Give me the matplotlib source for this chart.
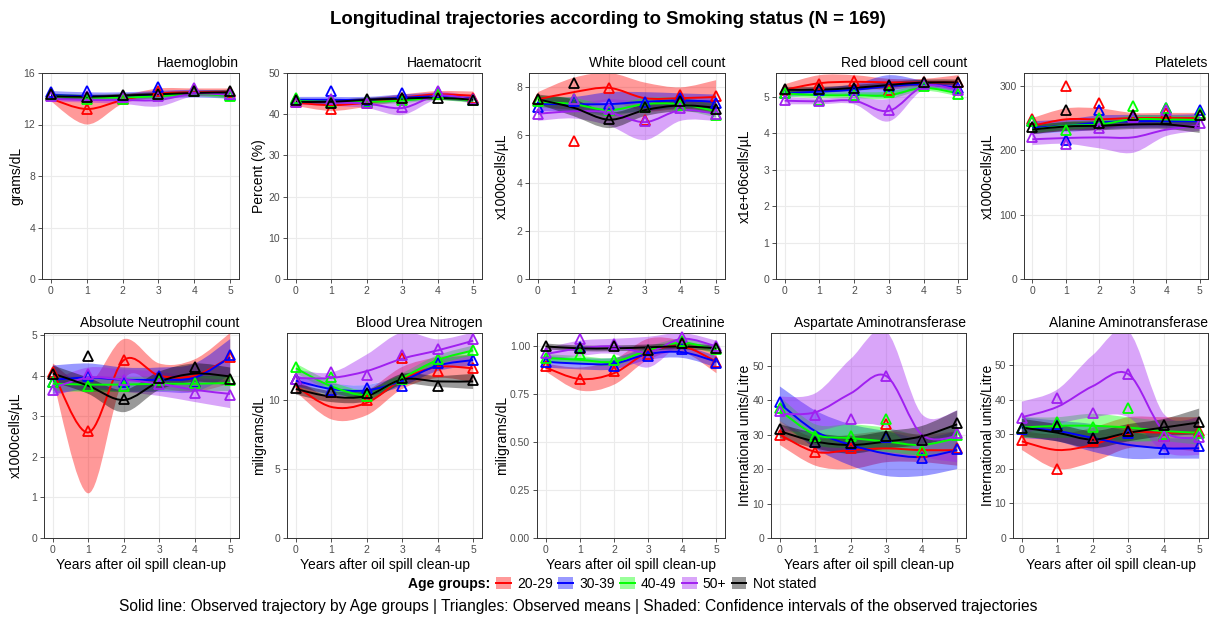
import matplotlib
matplotlib.use('Agg')
from matplotlib import pyplot as plt
from matplotlib.path import Path
from matplotlib.patches import PathPatch, Patch
from matplotlib.lines import Line2D

plt.rcParams['font.family'] = ['Liberation Sans', 'DejaVu Sans']

years = [0, 1, 2, 3, 4, 5]
groups = ['20-29', '30-39', '40-49', '50+', 'Not stated']
colors = ['#FF0000', '#0000FF', '#00FF00', '#A020F0', '#000000']

# rows follow the order of `groups`
# Haemoglobin
hb_mean = [[14.3, 13.2, 14.0, 14.6, 14.6, 14.5], [14.5, 14.6, 14.2, 14.9, 14.6, 14.3],
           [14.3, 14.0, 14.0, 14.3, 14.6, 14.2], [14.2, 14.2, 14.1, 14.2, 14.8, 14.4],
           [14.4, 14.1, 14.3, 14.4, 14.6, 14.6]]
hb_fit = [[14.0, 13.2, 13.9, 14.4, 14.5, 14.5], [14.3, 14.2, 14.2, 14.3, 14.4, 14.3],
          [14.2, 14.1, 14.1, 14.2, 14.4, 14.2], [14.0, 13.9, 13.9, 13.9, 14.4, 14.3],
          [14.2, 14.15, 14.25, 14.35, 14.45, 14.5]]
hb_lo = [[13.8, 12.0, 13.6, 14.1, 14.2, 14.2], [14.0, 13.9, 13.9, 14.0, 14.1, 14.0],
         [14.0, 13.9, 13.9, 14.0, 14.2, 14.0], [13.8, 13.7, 13.6, 13.4, 14.2, 14.1],
         [14.0, 14.0, 14.1, 14.2, 14.3, 14.3]]
hb_hi = [[14.2, 14.3, 14.3, 14.8, 14.8, 14.8], [14.6, 14.5, 14.5, 14.6, 14.7, 14.6],
         [14.4, 14.3, 14.3, 14.4, 14.6, 14.4], [14.2, 14.1, 14.2, 14.4, 14.6, 14.5],
         [14.4, 14.3, 14.4, 14.5, 14.6, 14.7]]

# Haematocrit
hct_mean = [[43.0, 41.3, 42.8, 44.0, 45.0, 44.0], [43.7, 45.6, 43.2, 45.2, 45.3, 43.5],
            [44.0, 43.0, 43.0, 43.5, 45.0, 43.5], [43.0, 43.8, 42.8, 41.8, 45.7, 43.8],
            [43.5, 42.7, 43.7, 44.0, 44.0, 43.5]]
hct_fit = [[42.8, 42.2, 42.8, 44.0, 44.8, 44.5], [43.5, 43.5, 43.5, 44.0, 44.3, 43.7],
           [43.2, 43.0, 43.0, 43.3, 44.0, 43.3], [43.0, 42.8, 42.6, 41.5, 44.5, 43.5],
           [43.0, 43.0, 43.5, 43.8, 44.0, 43.5]]
hct_lo = [[42.0, 40.8, 41.8, 43.2, 44.0, 43.5], [42.8, 42.8, 42.8, 43.2, 43.5, 43.0],
          [42.6, 42.4, 42.4, 42.7, 43.4, 42.7], [42.3, 42.0, 41.5, 39.8, 43.6, 42.7],
          [42.5, 42.5, 43.0, 43.3, 43.5, 43.0]]
hct_hi = [[43.6, 43.5, 43.8, 44.8, 45.6, 45.5], [44.2, 44.2, 44.2, 44.8, 45.1, 44.4],
          [43.8, 43.6, 43.6, 43.9, 44.6, 43.9], [43.7, 43.6, 43.7, 43.2, 45.4, 44.3],
          [43.5, 43.5, 44.0, 44.3, 44.5, 44.0]]

# White blood cell count
wbc_mean = [[7.5, 5.75, 7.98, 6.65, 7.68, 7.65], [7.2, 7.45, 7.3, 7.4, 7.55, 7.35],
            [7.45, 7.5, 7.05, 7.2, 7.25, 6.86], [6.88, 7.5, 7.1, 6.6, 7.15, 6.9],
            [7.5, 8.17, 6.7, 7.2, 7.45, 7.1]]
wbc_fit = [[7.5, 7.8, 7.98, 7.55, 7.55, 7.6], [7.3, 7.3, 7.3, 7.4, 7.45, 7.4],
           [7.4, 7.3, 7.05, 7.3, 7.3, 7.0], [6.9, 7.0, 6.95, 6.55, 7.05, 6.9],
           [7.5, 7.15, 6.65, 7.05, 7.25, 7.15]]
wbc_lo = [[7.2, 7.1, 7.4, 7.0, 7.1, 7.0], [7.0, 7.0, 6.9, 7.0, 7.15, 7.1],
          [7.15, 7.05, 6.8, 7.05, 7.05, 6.75], [6.6, 6.7, 6.4, 5.8, 6.6, 6.6],
          [7.3, 6.8, 6.3, 6.8, 7.0, 6.9]]
wbc_hi = [[7.8, 8.4, 8.6, 8.2, 8.0, 8.3], [7.6, 7.6, 7.8, 7.8, 7.75, 7.7],
          [7.65, 7.55, 7.3, 7.55, 7.55, 7.25], [7.2, 7.3, 7.5, 7.4, 7.5, 7.2],
          [7.7, 7.5, 6.95, 7.3, 7.5, 7.4]]

# Red blood cell count
rbc_mean = [[5.2, 5.37, 5.43, 5.2, 5.4, 5.4], [5.11, 5.2, 5.2, 5.3, 5.38, 5.25],
            [5.12, 4.92, 5.05, 5.15, 5.3, 5.08], [4.92, 4.88, 5.0, 4.65, 5.35, 5.2],
            [5.22, 5.22, 5.25, 5.33, 5.42, 5.42]]
rbc_fit = [[5.2, 5.38, 5.42, 5.4, 5.4, 5.4], [5.1, 5.15, 5.2, 5.3, 5.35, 5.25],
           [5.1, 5.05, 5.05, 5.05, 5.25, 5.1], [4.9, 4.88, 4.9, 4.62, 5.3, 5.2],
           [5.2, 5.2, 5.25, 5.33, 5.4, 5.4]]
rbc_lo = [[5.05, 5.15, 5.25, 5.2, 5.3, 5.25], [5.0, 5.05, 5.05, 5.0, 5.25, 5.15],
          [5.02, 4.97, 4.97, 4.95, 5.17, 5.02], [4.8, 4.8, 4.8, 4.33, 5.2, 5.1],
          [5.12, 5.12, 5.17, 5.25, 5.32, 5.32]]
rbc_hi = [[5.35, 5.6, 5.6, 5.5, 5.5, 5.6], [5.2, 5.25, 5.35, 5.6, 5.45, 5.35],
          [5.18, 5.13, 5.13, 5.15, 5.33, 5.18], [5.0, 4.96, 5.0, 4.95, 5.4, 5.3],
          [5.28, 5.28, 5.33, 5.41, 5.48, 5.48]]

# Platelets
plt_mean = [[248, 300, 274, 255, 258, 256], [245, 216, 263, 251, 266, 262],
            [246, 231, 250, 269, 265, 258], [221, 210, 234, 252, 263, 243],
            [236, 262, 243, 254, 249, 255]]
plt_fit = [[238, 248, 248, 250, 250, 250], [235, 238, 243, 245, 245, 245],
           [232, 238, 240, 248, 248, 247], [217, 219, 220, 220, 232, 238],
           [232, 237, 238, 240, 240, 235]]
plt_lo = [[225, 230, 232, 240, 240, 238], [225, 228, 232, 235, 235, 234],
          [226, 232, 234, 242, 242, 241], [208, 210, 203, 196, 222, 230],
          [225, 230, 231, 233, 233, 227]]
plt_hi = [[250, 265, 265, 258, 258, 258], [245, 248, 254, 255, 255, 256],
          [238, 244, 246, 254, 254, 253], [226, 228, 238, 245, 242, 246],
          [239, 244, 245, 247, 247, 243]]

# Absolute Neutrophil count
anc_mean = [[4.1, 2.63, 4.38, 3.95, 3.85, 4.46], [3.85, 4.0, 3.85, 4.0, 3.85, 4.52],
            [3.85, 3.74, 3.75, 3.9, 3.82, 3.88], [3.65, 4.05, 3.9, 3.8, 3.57, 3.52],
            [4.03, 4.48, 3.42, 3.95, 4.22, 3.92]]
anc_fit = [[4.1, 2.6, 4.38, 4.0, 4.0, 4.45], [3.9, 3.95, 3.9, 3.9, 3.95, 4.45],
           [3.8, 3.78, 3.78, 3.8, 3.8, 3.82], [3.7, 3.95, 3.9, 3.8, 3.65, 3.55],
           [4.05, 3.75, 3.4, 3.85, 4.05, 3.98]]
anc_lo = [[3.9, 1.1, 3.9, 3.7, 3.6, 3.8], [3.55, 3.65, 3.6, 3.6, 3.6, 4.0],
          [3.62, 3.6, 3.6, 3.62, 3.62, 3.62], [3.5, 3.7, 3.6, 3.5, 3.35, 3.2],
          [3.85, 3.55, 3.1, 3.65, 3.85, 3.75]]
anc_hi = [[4.3, 3.8, 4.9, 4.3, 4.4, 5.05], [4.25, 4.3, 4.2, 4.2, 4.3, 4.9],
          [3.98, 3.96, 3.96, 3.98, 3.98, 4.02], [3.9, 4.2, 4.15, 4.1, 3.95, 3.9],
          [4.25, 3.95, 3.65, 4.1, 4.3, 4.2]]

# Blood Urea Nitrogen
bun_mean = [[11.5, 10.55, 10.0, 13.08, 12.1, 12.3], [11.5, 10.7, 10.9, 11.0, 12.67, 12.87],
            [12.4, 11.7, 10.3, 11.5, 13.0, 13.66], [11.5, 12.05, 11.85, 13.25, 13.7, 14.4],
            [10.9, 10.6, 10.5, 11.57, 11.04, 11.45]]
bun_fit = [[11.0, 9.5, 9.8, 11.5, 12.4, 12.3], [11.4, 10.8, 10.7, 11.4, 12.5, 12.9],
           [12.3, 11.0, 10.4, 11.6, 12.9, 13.6], [11.6, 11.6, 12.1, 13.0, 13.6, 14.3],
           [10.8, 10.25, 10.3, 11.5, 11.35, 11.35]]
bun_lo = [[10.6, 8.6, 8.9, 10.8, 11.6, 11.3], [11.0, 10.4, 10.3, 11.0, 12.1, 12.5],
          [11.95, 10.65, 10.05, 11.25, 12.55, 13.25], [10.9, 11.1, 11.1, 11.8, 12.8, 13.5],
          [10.4, 9.85, 9.9, 11.1, 10.95, 10.8]]
bun_hi = [[11.5, 10.2, 10.7, 12.4, 13.1, 13.3], [11.8, 11.2, 11.1, 11.8, 12.9, 13.3],
          [12.65, 11.35, 10.75, 11.95, 13.25, 13.95], [12.2, 12.0, 13.3, 14.9, 14.4, 14.9],
          [11.2, 10.65, 10.7, 11.9, 11.75, 11.9]]

# Creatinine
cre_mean = [[0.90, 0.83, 0.87, 0.96, 1.02, 0.92], [0.917, 0.995, 0.90, 0.95, 0.986, 0.915],
            [0.94, 0.958, 0.93, 0.98, 1.03, 0.984], [0.964, 1.04, 1.014, 0.98, 1.05, 1.0],
            [1.0, 0.99, 1.0, 0.98, 1.02, 0.99]]
cre_fit = [[0.89, 0.83, 0.86, 0.97, 1.0, 0.92], [0.92, 0.91, 0.91, 0.96, 0.97, 0.92],
           [0.94, 0.93, 0.92, 0.98, 1.02, 0.98], [0.96, 0.99, 1.0, 0.97, 1.04, 1.0],
           [1.0, 0.99, 0.99, 0.995, 1.0, 0.99]]
cre_lo = [[0.87, 0.77, 0.80, 0.93, 0.97, 0.86], [0.89, 0.88, 0.88, 0.93, 0.94, 0.89],
          [0.92, 0.91, 0.90, 0.96, 1.0, 0.96], [0.93, 0.95, 0.96, 0.89, 1.01, 0.97],
          [0.985, 0.975, 0.975, 0.98, 0.985, 0.975]]
cre_hi = [[0.91, 0.89, 0.93, 1.04, 1.03, 0.97], [0.95, 0.94, 0.94, 0.99, 1.0, 0.95],
          [0.96, 0.95, 0.94, 1.0, 1.04, 1.0], [0.99, 1.03, 1.04, 1.05, 1.07, 1.03],
          [1.015, 1.005, 1.005, 1.01, 1.015, 1.005]]

# Aspartate Aminotransferase
ast_mean = [[30, 25, 26, 33, 25, 26], [39.5, 28, 27.3, 29.2, 23.3, 25.9],
            [37.6, 29.6, 29.5, 34.4, 25.5, 30], [36.9, 35.6, 34.4, 46.9, 28.4, 30.5],
            [31.5, 28, 27.5, 29.5, 28.5, 33.4]]
ast_fit = [[30, 25, 25.5, 26, 25.5, 25.5], [39, 31, 27, 24.5, 23.5, 25.5],
           [37, 30, 29, 28, 27, 29], [36, 36.5, 42, 47, 30, 29.5],
           [31, 28, 27, 28, 29.5, 33]]
ast_lo = [[27, 21, 20, 22, 22, 21], [34, 26, 21, 18, 18, 20],
          [33, 27, 26, 25, 24, 25], [31, 31, 33, 32, 24, 22],
          [29, 26, 24.5, 26, 27, 29.5]]
ast_hi = [[34, 29, 30, 31, 30, 31], [44, 37, 33, 31, 29, 31],
          [41, 33, 33, 32, 30, 33], [41, 42, 52, 60, 36, 37],
          [33, 30.5, 29.5, 31, 32.5, 37]]

# Alanine Aminotransferase
alt_mean = [[28.5, 19.85, 28, 31.2, 29.5, 31.1], [31.6, 33.1, 29.1, 30.5, 25.7, 26.6],
            [32, 33.6, 32.2, 37.6, 30.2, 30.5], [34.7, 40.5, 36.2, 47.6, 29.5, 29.3],
            [32, 32.5, 29.1, 31, 32.7, 33.7]]
alt_fit = [[28, 25.5, 27, 30.5, 30.5, 30.5], [32, 31, 29, 27, 26, 26],
           [32, 32.5, 32.5, 32, 31, 30.5], [35, 38, 44, 47.5, 31, 29],
           [32, 30.5, 28.5, 30.5, 32, 33.5]]
alt_lo = [[25.5, 20, 22, 26, 26, 25], [29, 28, 25, 23, 23, 23],
          [29, 29, 29, 28, 28, 27], [30, 33, 35, 35, 25, 24],
          [29.5, 28, 26, 28, 29.5, 30]]
alt_hi = [[31, 30, 32, 35, 35, 35], [35, 34, 33, 31, 29, 29],
          [35, 35, 36, 35, 34, 34], [39.5, 43, 53, 60, 36, 35],
          [34.5, 33, 31, 33, 34.5, 37.5]]

panels = [
    ('Haemoglobin', 'grams/dL', hb_mean, hb_fit, hb_lo, hb_hi, [0, 4, 8, 12, 16], 16),
    ('Haematocrit', 'Percent (%)', hct_mean, hct_fit, hct_lo, hct_hi, [0, 10, 20, 30, 40, 50], 50),
    ('White blood cell count', 'x1000cells/\u00b5L', wbc_mean, wbc_fit, wbc_lo, wbc_hi, [0, 2, 4, 6, 8], 8.6),
    ('Red blood cell count', 'x1e+06cells/\u00b5L', rbc_mean, rbc_fit, rbc_lo, rbc_hi, [0, 1, 2, 3, 4, 5], 5.66),
    ('Platelets', 'x1000cells/\u00b5L', plt_mean, plt_fit, plt_lo, plt_hi, [0, 100, 200, 300], 320),
    ('Absolute Neutrophil count', 'x1000cells/\u00b5L', anc_mean, anc_fit, anc_lo, anc_hi, [0, 1, 2, 3, 4, 5], 5.05),
    ('Blood Urea Nitrogen', 'miligrams/dL', bun_mean, bun_fit, bun_lo, bun_hi, [0, 5, 10], 14.86),
    ('Creatinine', 'miligrams/dL', cre_mean, cre_fit, cre_lo, cre_hi, [0, 0.25, 0.5, 0.75, 1.0], 1.07),
    ('Aspartate Aminotransferase', 'International units/Litre', ast_mean, ast_fit, ast_lo, ast_hi, [0, 10, 20, 30, 40, 50], 59.5),
    ('Alanine Aminotransferase', 'International units/Litre', alt_mean, alt_fit, alt_lo, alt_hi, [0, 10, 20, 30, 40, 50], 59.4),
]

# panel boxes in pixels: left, right, top, bottom
boxes = [(42, 239, 73, 279), (287, 482, 73, 279), (529, 725, 73, 279), (776, 967, 73, 279), (1024, 1208, 73, 279),
         (44, 239, 333, 538), (287, 482, 333, 538), (537, 725, 333, 538), (771, 966, 333, 538), (1013, 1208, 333, 538)]

W, H = 1215, 617


def smooth(xs, ys):
    # cubic bezier pieces through the points (catmull-rom style)
    pts = list(zip(xs, ys))
    n = len(pts)
    verts = [pts[0]]
    codes = [Path.MOVETO]
    for i in range(n - 1):
        p0, p1 = pts[max(i - 1, 0)], pts[i]
        p2, p3 = pts[i + 1], pts[min(i + 2, n - 1)]
        c1 = (p1[0] + (p2[0] - p0[0]) / 6, p1[1] + (p2[1] - p0[1]) / 6)
        c2 = (p2[0] - (p3[0] - p1[0]) / 6, p2[1] - (p3[1] - p1[1]) / 6)
        verts += [c1, c2, p2]
        codes += [Path.CURVE4] * 3
    return verts, codes


fig = plt.figure(figsize=(W / 100, H / 100), dpi=100)

for k, (title, ylab, means, fits, los, his, yt, ymax) in enumerate(panels):
    l, r, t, b = boxes[k]
    ax = fig.add_axes([l / W, 1 - b / H, (r - l) / W, (b - t) / H])
    ax.set_xlim(-0.25, 5.25)
    ax.set_ylim(0, ymax)
    ax.set_xticks(years)
    ax.set_yticks(yt)
    if k == 7:
        ax.set_yticklabels(['0.00', '0.25', '0.50', '0.75', '1.00'])
    ax.grid(True, color='#EBEBEB', lw=0.8)
    ax.set_axisbelow(True)
    for s in ax.spines.values():
        s.set_color('#333333')
        s.set_linewidth(0.7)
    ax.tick_params(direction='out', length=3, width=0.6, color='#333333',
                   labelsize=7.5, labelcolor='#4D4D4D', pad=2)

    for g in range(len(groups)):
        uv, uc = smooth(years, his[g])
        lv, lc = smooth(years, los[g])
        verts = uv + lv[::-1] + [uv[0]]
        codes = uc + [Path.LINETO] + [Path.CURVE4] * (len(lv) - 1) + [Path.CLOSEPOLY]
        ax.add_patch(PathPatch(Path(verts, codes), facecolor=colors[g], alpha=0.4, lw=0, zorder=2))
    for g in range(len(groups)):
        fv, fc = smooth(years, fits[g])
        ax.add_patch(PathPatch(Path(fv, fc), fill=False, edgecolor=colors[g], lw=1.4, zorder=3))
    for g in range(len(groups)):
        ax.plot(years, means[g], linestyle='none', marker='^', markersize=7.5,
                markerfacecolor='none', markeredgecolor=colors[g], markeredgewidth=1.3,
                zorder=4, clip_on=False)

    ax.text(1.0, 1.015, title, transform=ax.transAxes, ha='right', va='bottom', fontsize=10)
    fig.text((k % 5 * 243 + 16) / W, 1 - (t + b) / 2 / H, ylab, rotation=90,
             ha='center', va='center', fontsize=10)
    if k >= 5:
        fig.text((l + r) / 2 / W, 1 - 565 / H, 'Years after oil spill clean-up',
                 ha='center', va='center', fontsize=10)

fig.text(0.5, 1 - 20 / H, 'Longitudinal trajectories according to Smoking status (N = 169)',
         ha='center', va='center', fontsize=13.3, fontweight='bold')

# legend
fig.text(408 / W, 1 - 584 / H, 'Age groups:', ha='left', va='center', fontsize=10, fontweight='bold')
handles = [(Patch(facecolor=c, alpha=0.4, lw=0), Line2D([], [], color=c, lw=1.4)) for c in colors]
fig.legend(handles, groups, loc='center left', bbox_to_anchor=(496 / W, 1 - 584 / H),
           ncol=5, frameon=False, fontsize=10, handlelength=1.05, handleheight=0.9,
           handletextpad=0.45, columnspacing=0.4, borderpad=0, borderaxespad=0)

fig.text(578 / W, 1 - 607 / H, 'Solid line: Observed trajectory by Age groups | Triangles: Observed means | '
         'Shaded: Confidence intervals of the observed trajectories',
         ha='center', va='center', fontsize=11.2)

fig.savefig('out.png', dpi=100)
